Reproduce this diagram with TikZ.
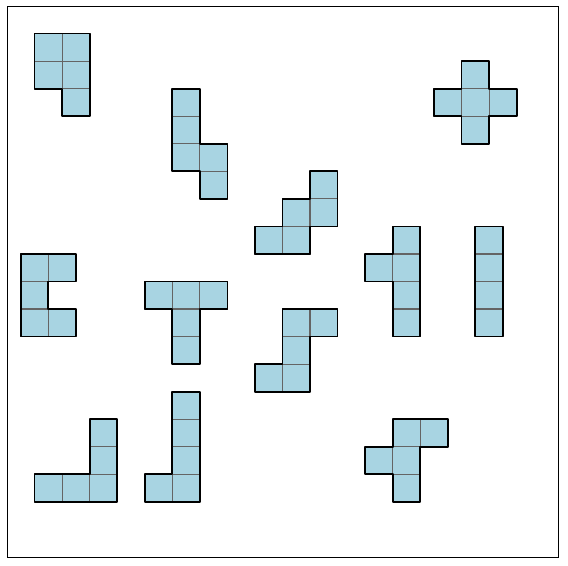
\documentclass[tikz,border=0pt]{standalone}
\definecolor{cellblue}{RGB}{168,212,226}
\definecolor{cellline}{RGB}{100,100,100}
\tikzset{
  cell/.style={fill=cellblue, draw=cellline, line width=1.2pt},
  outline/.style={draw=black, line width=1.8pt, line join=round},
  frame/.style={draw=black, line width=0.9pt}
}
\newcommand{\piece}[2]{%
  \foreach \cx/\cy in {#1} \draw[cell] (\cx,\cy) rectangle ++(1,1);
  \draw[outline] #2 -- cycle;
}
\begin{document}
\begin{tikzpicture}[x=1cm,y=-1cm]
\useasboundingbox (-0.254,-0.218) rectangle (20.363,20.326);
\draw[frame] (0,0) rectangle (20,20);
% P
\piece{1/1,2/1,1/2,2/2,2/3}{(1,1)--(3,1)--(3,4)--(2,4)--(2,3)--(1,3)}
% N vertical
\piece{6/3,6/4,6/5,7/5,7/6}{(6,3)--(7,3)--(7,5)--(8,5)--(8,7)--(7,7)--(7,6)--(6,6)}
% plus
\piece{16.5/2,15.5/3,16.5/3,17.5/3,16.5/4}{(16.5,2)--(17.5,2)--(17.5,3)--(18.5,3)--(18.5,4)--(17.5,4)--(17.5,5)--(16.5,5)--(16.5,4)--(15.5,4)--(15.5,3)--(16.5,3)}
% W
\piece{11/6,10/7,11/7,9/8,10/8}{(11,6)--(12,6)--(12,8)--(11,8)--(11,9)--(9,9)--(9,8)--(10,8)--(10,7)--(11,7)}
% U
\piece{0.5/9,1.5/9,0.5/10,0.5/11,1.5/11}{(0.5,9)--(2.5,9)--(2.5,10)--(1.5,10)--(1.5,11)--(2.5,11)--(2.5,12)--(0.5,12)}
% T
\piece{5/10,6/10,7/10,6/11,6/12}{(5,10)--(8,10)--(8,11)--(7,11)--(7,13)--(6,13)--(6,11)--(5,11)}
% Y
\piece{14/8,14/9,14/10,14/11,13/9}{(14,8)--(15,8)--(15,12)--(14,12)--(14,10)--(13,10)--(13,9)--(14,9)}
% I
\piece{17/8,17/9,17/10,17/11}{(17,8)--(18,8)--(18,12)--(17,12)}
% S
\piece{10/11,11/11,10/12,9/13,10/13}{(10,11)--(12,11)--(12,12)--(11,12)--(11,14)--(9,14)--(9,13)--(10,13)}
% L
\piece{3/15,3/16,1/17,2/17,3/17}{(3,15)--(4,15)--(4,18)--(1,18)--(1,17)--(3,17)}
% J tall
\piece{6/14,6/15,6/16,6/17,5/17}{(6,14)--(7,14)--(7,18)--(5,18)--(5,17)--(6,17)}
% F
\piece{14/15,15/15,13/16,14/16,14/17}{(14,15)--(16,15)--(16,16)--(15,16)--(15,18)--(14,18)--(14,17)--(13,17)--(13,16)--(14,16)}
\end{tikzpicture}
\end{document}
